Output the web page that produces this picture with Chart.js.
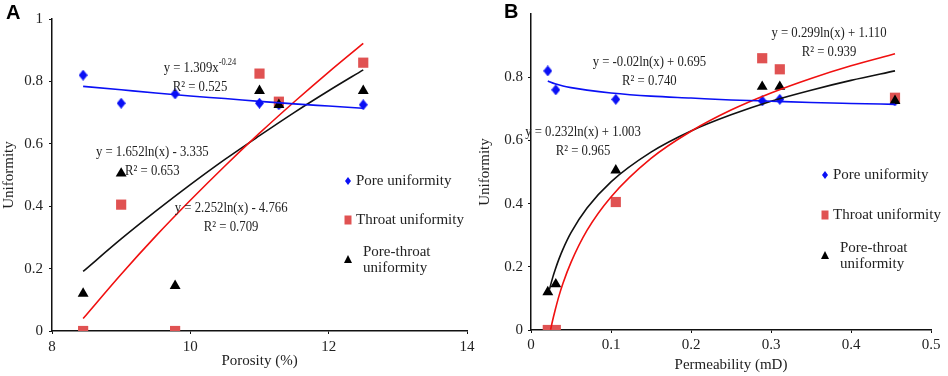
<!DOCTYPE html>
<html>
<head>
<meta charset="utf-8">
<script src="https://cdn.jsdelivr.net/npm/chart.js@4.4.1/dist/chart.umd.min.js"></script>
<style>
  body { margin: 0; background: #fff; width: 948px; height: 376px; position: relative; overflow: hidden; }
  canvas { position: absolute; top: 0; }
  #chartA { left: 0; }
  #chartB { left: 474px; }
  .tag { position: absolute; font: bold 20px "Liberation Sans", Arial, sans-serif; line-height: 20px; color: #000; }
</style>
</head>
<body>
<canvas id="chartA" width="490" height="376"></canvas>
<canvas id="chartB" width="474" height="376"></canvas>
<div class="tag" style="left:6px; top:2px">A</div>
<div class="tag" style="left:504px; top:1px">B</div>
<script>
// samples (same six cores in both panels)
const porosity = [8.45, 9.78, 9.0, 12.5, 11.0, 11.28];
const permeability = [0.021, 0.031, 0.106, 0.289, 0.311, 0.455];
const poreUniformity = [0.82, 0.76, 0.73, 0.725, 0.73, 0.725];
const throatUniformity = [0, 0, 0.405, 0.86, 0.825, 0.735];
const poreThroatUniformity = [0.12, 0.145, 0.505, 0.77, 0.77, 0.725];

// tick labels
const porosityTicks = [8, 10, 12, 14];
const permeabilityTicks = [0, 0.1, 0.2, 0.3, 0.4, 0.5];
const uniformityTicksA = [0, 0.2, 0.4, 0.6, 0.8, 1];
const uniformityTicksB = [0, 0.2, 0.4, 0.6, 0.8];

// fitted curves
const trendPorosity = [8.45, 9, 9.5, 10, 10.5, 11, 11.5, 12, 12.5];
const poreTrendA = [0.784, 0.773, 0.763, 0.753, 0.745, 0.736, 0.728, 0.721, 0.714];
const throatTrendA = [0.04, 0.182, 0.304, 0.419, 0.529, 0.634, 0.734, 0.83, 0.922];
const poreThroatTrendA = [0.191, 0.295, 0.384, 0.469, 0.55, 0.626, 0.7, 0.77, 0.837];

const poreTrendPermX = [0.021, 0.03, 0.04, 0.05, 0.07, 0.1, 0.15, 0.2, 0.25, 0.3, 0.35, 0.4, 0.455];
const poreTrendB = [0.788, 0.779, 0.772, 0.767, 0.759, 0.75, 0.74, 0.734, 0.728, 0.724, 0.72, 0.717, 0.714];
const throatTrendPermX = [0.0245, 0.027, 0.03, 0.035, 0.04, 0.05, 0.07, 0.1, 0.15, 0.2, 0.25, 0.3, 0.35, 0.4, 0.455];
const throatTrendB = [0.001, 0.03, 0.061, 0.108, 0.148, 0.214, 0.315, 0.421, 0.543, 0.629, 0.696, 0.75, 0.796, 0.836, 0.874];
const poreThroatTrendPermX = [0.023, 0.027, 0.03, 0.035, 0.04, 0.05, 0.07, 0.1, 0.15, 0.2, 0.25, 0.3, 0.35, 0.4, 0.455];
const poreThroatTrendB = [0.128, 0.165, 0.189, 0.225, 0.256, 0.308, 0.386, 0.469, 0.563, 0.63, 0.681, 0.724, 0.759, 0.79, 0.82];

const legendLabels = ["Pore uniformity", "Throat uniformity", "Pore-throat", "uniformity"];

const equationsA = [
  { text: "y = 1.309x", sup: "-0.24", r2: "R² = 0.525", x: 10.14, y: 0.843 },
  { text: "y = 1.652ln(x) - 3.335", r2: "R² = 0.653", x: 9.45, y: 0.573 },
  { text: "y = 2.252ln(x) - 4.766", r2: "R² = 0.709", x: 10.59, y: 0.394 },
];
const equationsB = [
  { text: "y = -0.02ln(x) + 0.695", r2: "R² = 0.740", x: 0.148, y: 0.848 },
  { text: "y = 0.299ln(x) + 1.110", r2: "R² = 0.939", x: 0.3725, y: 0.941 },
  { text: "y = 0.232ln(x) + 1.003", r2: "R² = 0.965", x: 0.065, y: 0.627 },
];

const BLUE = "#0a10f5";
const RED = "#e05252";
const SERIF = '"Liberation Serif", "Times New Roman", serif';

// narrow diamond used as point style (the Excel marker is taller than wide)
const diamond = document.createElement("canvas");
diamond.width = 9;
diamond.height = 11;
(function () {
  const c = diamond.getContext("2d");
  c.fillStyle = BLUE;
  c.beginPath();
  c.moveTo(4.5, 0); c.lineTo(9, 5.5); c.lineTo(4.5, 11); c.lineTo(0, 5.5);
  c.closePath();
  c.fill();
})();

function pts(xs, ys) {
  return xs.map((x, i) => ({ x: x, y: ys[i] }));
}

function drawSquashed(ctx, text, sup, cx, cy) {
  const sx = 0.85;
  ctx.font = "15px " + SERIF;
  const w1 = ctx.measureText(text).width;
  let w2 = 0;
  if (sup) {
    ctx.font = "10px " + SERIF;
    w2 = ctx.measureText(sup).width;
  }
  ctx.save();
  ctx.translate(cx - (w1 + w2) * sx / 2, cy);
  ctx.scale(sx, 1);
  ctx.font = "15px " + SERIF;
  ctx.fillText(text, 0, 0);
  if (sup) {
    ctx.font = "10px " + SERIF;
    ctx.fillText(sup, w1, -6);
  }
  ctx.restore();
}

function drawMarker(ctx, kind, x, y) {
  ctx.beginPath();
  if (kind === "diamond") {
    ctx.fillStyle = BLUE;
    ctx.moveTo(x, y - 4); ctx.lineTo(x + 3, y); ctx.lineTo(x, y + 4); ctx.lineTo(x - 3, y);
  } else if (kind === "square") {
    ctx.fillStyle = RED;
    ctx.rect(x - 3.5, y - 4.5, 7, 9);
  } else {
    ctx.fillStyle = "#000";
    ctx.moveTo(x, y - 4); ctx.lineTo(x + 4, y + 4); ctx.lineTo(x - 4, y + 4);
  }
  ctx.closePath();
  ctx.fill();
}

const overlayPlugin = {
  id: "overlay",
  afterDatasetsDraw(chart, args, opts) {
    const ctx = chart.ctx;
    const xs = chart.scales.x, ys = chart.scales.y;
    ctx.save();
    ctx.textBaseline = "middle";
    ctx.textAlign = "left";
    opts.equations.forEach((eq) => {
      const px = xs.getPixelForValue(eq.x);
      const py = ys.getPixelForValue(eq.y);
      ctx.fillStyle = "#222";
      drawSquashed(ctx, eq.text, eq.sup, px, py);
      drawSquashed(ctx, eq.r2, null, px, py + 19);
    });

    // legend inside the plot
    const lg = opts.legend;
    drawMarker(ctx, "diamond", lg.x, lg.rows[0]);
    drawMarker(ctx, "square", lg.x, lg.rows[1]);
    drawMarker(ctx, "triangle", lg.x, lg.rows[2]);
    ctx.fillStyle = "#222";
    ctx.font = "15px " + SERIF;
    ctx.fillText(legendLabels[0], lg.x + 8, lg.rows[0]);
    ctx.fillText(legendLabels[1], lg.x + 8, lg.rows[1]);
    ctx.fillText(legendLabels[2], lg.x + 15, lg.rows[2] - 7);
    ctx.fillText(legendLabels[3], lg.x + 15, lg.rows[2] + 9);
    ctx.restore();
  },
};

function axis(cfg) {
  return {
    type: "linear",
    min: cfg.min,
    max: cfg.max,
    afterBuildTicks: (s) => { s.ticks = cfg.ticks.map((v) => ({ value: v })); },
    afterFit: (s) => { if (cfg.width) s.width = cfg.width; if (cfg.height) s.height = cfg.height; },
    border: { display: true, color: "#111", width: 1.5 },
    grid: { drawOnChartArea: false, drawTicks: true, tickLength: 3, color: "#111", lineWidth: 1 },
    ticks: {
      color: "#222",
      padding: cfg.pad,
      maxRotation: 0,
      font: { family: SERIF, size: 15 },
      callback: (v) => String(+Number(v).toFixed(2)),
    },
    title: {
      display: true,
      text: cfg.title,
      color: "#222",
      font: { family: SERIF, size: 15 },
      padding: cfg.titlePad,
    },
  };
}

function buildChart(id, d) {
  return new Chart(document.getElementById(id), {
    type: "scatter",
    data: {
      datasets: [
        { data: pts(d.poreTrendX, d.poreTrend), showLine: true, borderColor: BLUE, borderWidth: 1.6, pointRadius: 0, cubicInterpolationMode: "monotone" },
        { data: pts(d.throatTrendX, d.throatTrend), showLine: true, borderColor: "#f01010", borderWidth: 1.6, pointRadius: 0, cubicInterpolationMode: "monotone" },
        { data: pts(d.ptTrendX, d.ptTrend), showLine: true, borderColor: "#111", borderWidth: 1.6, pointRadius: 0, cubicInterpolationMode: "monotone" },
        { data: pts(d.x, poreThroatUniformity), pointStyle: "triangle", pointRadius: 6.3, backgroundColor: "#000", borderColor: "#000", borderWidth: 0 },
        { data: pts(d.x, throatUniformity), pointStyle: "rect", pointRadius: 7.2, backgroundColor: RED, borderColor: RED, borderWidth: 0 },
        { data: pts(d.x, poreUniformity), pointStyle: diamond, pointRadius: 5, backgroundColor: BLUE, borderColor: BLUE, borderWidth: 0 },
      ],
    },
    options: {
      responsive: false,
      animation: false,
      layout: { padding: d.padding },
      plugins: {
        legend: { display: false },
        tooltip: { enabled: false },
        overlay: { equations: d.equations, legend: d.legend },
      },
      scales: { x: axis(d.xAxis), y: axis(d.yAxis) },
    },
    plugins: [overlayPlugin],
  });
}

buildChart("chartA", {
  x: porosity,
  poreTrendX: trendPorosity, poreTrend: poreTrendA,
  throatTrendX: trendPorosity, throatTrend: throatTrendA,
  ptTrendX: trendPorosity, ptTrend: poreThroatTrendA,
  equations: equationsA,
  legend: { x: 348, rows: [181, 220, 259] },
  padding: { left: 0, top: 19, right: 23, bottom: 0 },
  xAxis: { min: 8, max: 14, ticks: porosityTicks, height: 45, pad: 4, title: "Porosity (%)", titlePad: { top: 0, bottom: 6 } },
  yAxis: { min: 0, max: 1, ticks: uniformityTicksA, width: 52, pad: 6, title: "Uniformity", titlePad: { top: 0, bottom: 0 } },
});

buildChart("chartB", {
  x: permeability,
  poreTrendX: poreTrendPermX, poreTrend: poreTrendB,
  throatTrendX: throatTrendPermX, throatTrend: throatTrendB,
  ptTrendX: poreThroatTrendPermX, ptTrend: poreThroatTrendB,
  equations: equationsB,
  legend: { x: 351, rows: [175, 215, 255] },
  padding: { left: 0, top: 8, right: 17, bottom: 0 },
  xAxis: { min: 0, max: 0.5, ticks: permeabilityTicks, height: 46, pad: 3, title: "Permeability (mD)", titlePad: { top: 0, bottom: 2 } },
  yAxis: { min: 0, max: 1, ticks: uniformityTicksB, width: 57, pad: 5, title: "Uniformity", titlePad: { top: 2, bottom: 0 } },
});
</script>
</body>
</html>
